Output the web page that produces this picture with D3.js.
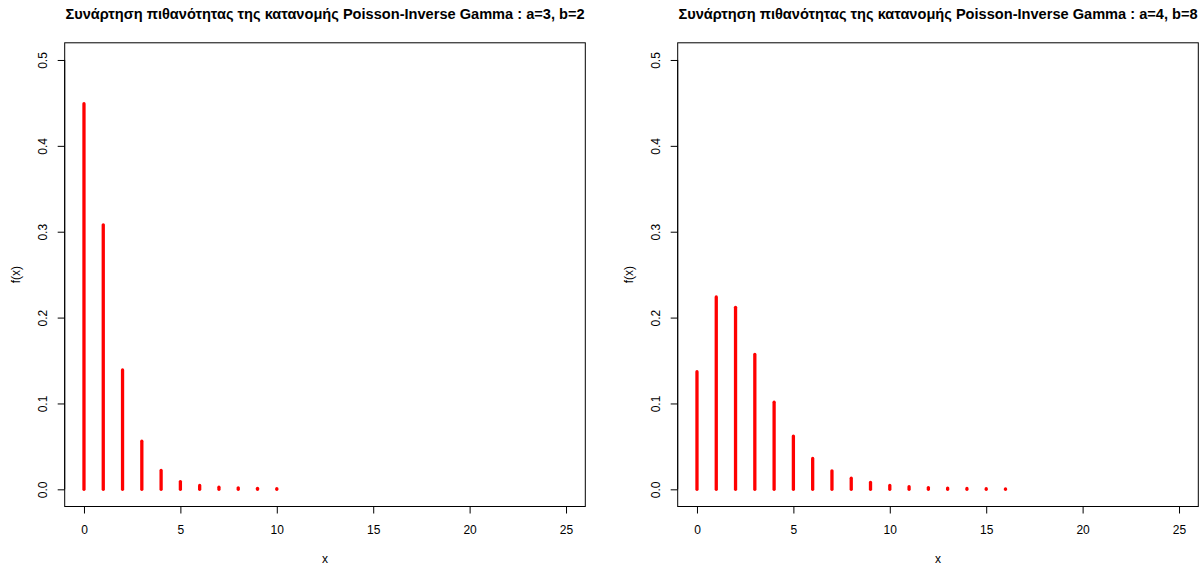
<!DOCTYPE html>
<html><head><meta charset="utf-8">
<script src="https://cdn.jsdelivr.net/npm/d3@7"></script>
<style>html,body{margin:0;padding:0;background:#fff;} svg{display:block;font-family:"Liberation Sans",Arial,Helvetica,sans-serif;}</style>
</head><body><svg id="c" width="1204" height="566"></svg>
<script>
// Data
const titles = [
  "Συνάρτηση πιθανότητας της κατανομής Poisson-Inverse Gamma : a=3, b=2",
  "Συνάρτηση πιθανότητας της κατανομής Poisson-Inverse Gamma : a=4, b=8"
];
const xValsA = [0,1,2,3,4,5,6,7,8,9,10];
const probsA = [0.449,0.308,0.139,0.056,0.022,0.009,0.0045,0.0025,0.0018,0.0012,0.0009];
const xValsB = [0,1,2,3,4,5,6,7,8,9,10,11,12,13,14,15,16];
const probsB = [0.137,0.224,0.212,0.157,0.1015,0.062,0.036,0.0215,0.013,0.008,0.0045,0.003,0.002,0.0015,0.001,0.0008,0.0006];
const xTicks = [0,5,10,15,20,25];
const yTicks = [0.0,0.1,0.2,0.3,0.4,0.5];
const xLabel = "x";
const yLabel = "f(x)";

const svg = d3.select("#c");
const panels = [
  {left:64.7, right:585.3, xs:xValsA, ys:probsA, title:titles[0]},
  {left:677.7, right:1198.3, xs:xValsB, ys:probsB, title:titles[1]}
];
const boxTop = 42.8, boxBottom = 506.5;

panels.forEach(p => {
  const g = svg.append("g");
  const x = d3.scaleLinear().domain([-1, 26]).range([p.left, p.right]);
  const y = d3.scaleLinear().domain([-0.02, 0.52]).range([boxBottom, boxTop]);

  // bars
  g.selectAll("line.bar").data(p.xs.map((v,i)=>({x:v,y:p.ys[i]}))).enter()
    .append("line").attr("class","bar")
    .attr("x1", d=>x(d.x)).attr("x2", d=>x(d.x))
    .attr("y1", y(0)).attr("y2", d=>y(d.y))
    .attr("stroke","#ff0000").attr("stroke-width",3.3).attr("stroke-linecap","round");

  // box
  g.append("rect").attr("x",p.left).attr("y",boxTop).attr("width",p.right-p.left).attr("height",boxBottom-boxTop)
    .attr("fill","none").attr("stroke","#000").attr("stroke-width",1);

  // x axis
  const xa = g.append("g").attr("transform",`translate(0,${boxBottom})`)
    .call(d3.axisBottom(x).tickValues(xTicks).tickSize(7).tickPadding(11.5).tickFormat(d3.format("d")));
  xa.select(".domain").attr("d", `M${x(xTicks[0])},0H${x(xTicks[xTicks.length-1])}`);
  xa.selectAll("text").attr("font-size",12).attr("font-family","Liberation Sans, Arial, sans-serif").attr("fill","#000");

  // y axis
  const ya = g.append("g").attr("transform",`translate(${p.left},0)`)
    .call(d3.axisLeft(y).tickValues(yTicks).tickSize(7).tickFormat(d3.format(".1f")));
  ya.select(".domain").attr("d", `M0,${y(yTicks[0])}V${y(yTicks[yTicks.length-1])}`);
  ya.selectAll(".tick text").attr("transform","rotate(-90)").attr("x",0).attr("y",-17.5)
    .attr("dy","0").attr("text-anchor","middle").attr("font-size",12)
    .attr("font-family","Liberation Sans, Arial, sans-serif").attr("fill","#000");

  // titles and labels
  const cx = (p.left+p.right)/2;
  g.append("text").attr("x",cx).attr("y",18.5).attr("text-anchor","middle")
    .attr("font-size",14.6).attr("font-weight","bold").text(p.title);
  g.append("text").attr("x",cx).attr("y",563).attr("text-anchor","middle").attr("font-size",12).text(xLabel);
  g.append("text").attr("transform",`translate(${p.left-45},${(boxTop+boxBottom)/2}) rotate(-90)`)
    .attr("text-anchor","middle").attr("font-size",12).text(yLabel);
});
</script></body></html>
